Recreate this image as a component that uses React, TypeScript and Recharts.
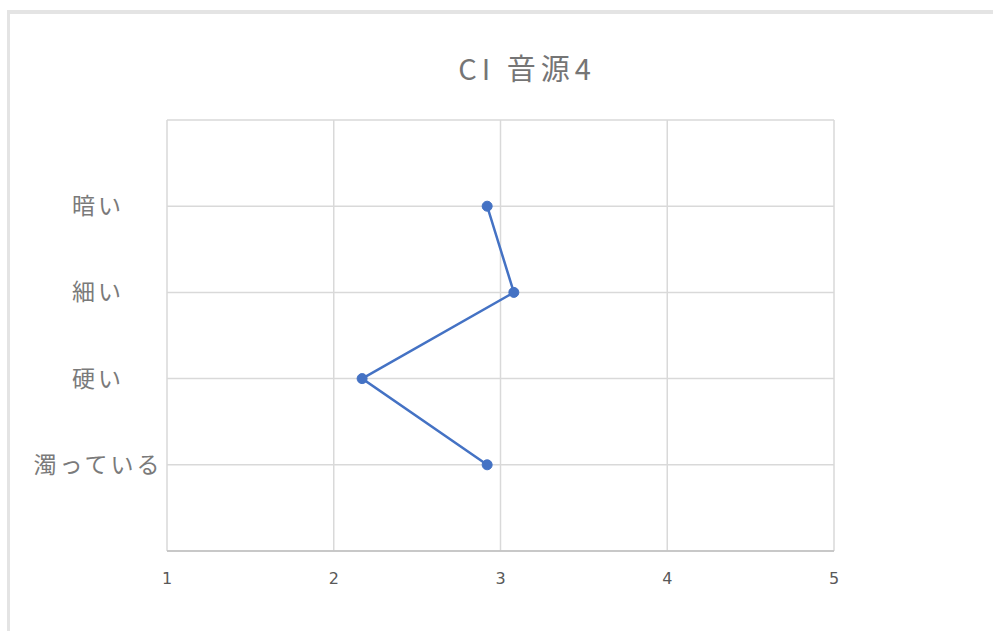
import { LineChart, Line, XAxis, YAxis, CartesianGrid } from "recharts";

// 評価尺度（上から順に）
const leftLabels = ["暗い", "細い", "硬い", "濁っている"];
const rightLabels = ["明るい", "太い", "柔らかい", "澄んでいる"];
const rowPositions = [4, 3, 2, 1];
const scores = [2.92, 3.08, 2.17, 2.92];
const scaleTicks = [1, 2, 3, 4, 5];
const rowTicks = [0, 1, 2, 3, 4, 5];

const data = rowPositions.map((row, i) => ({
  row,
  score: scores[i],
  left: leftLabels[i],
  right: rightLabels[i],
}));

const labelFor = (labels: string[]) => (v: number) => {
  const i = rowPositions.indexOf(v);
  return i >= 0 ? labels[i] : "";
};

const SideTick = ({ x, y, payload, labels, offset }: any) => {
  const text = labelFor(labels)(payload.value);
  if (!text) return null;
  return (
    <text
      x={x + offset}
      y={y - 2}
      textAnchor="middle"
      dominantBaseline="central"
      fill="#7a7a7a"
      fontSize={23}
      letterSpacing={3}
      fontFamily="'Noto Sans CJK JP', sans-serif"
    >
      {text}
    </text>
  );
};

export default function App() {
  return (
    <div
      style={{
        position: "absolute",
        left: 0,
        top: 0,
        width: 993,
        height: 631,
        overflow: "hidden",
        background: "#fff",
      }}
    >
      <div
        style={{
          position: "absolute",
          left: 7,
          top: 10,
          width: 1100,
          height: 700,
          borderTop: "4px solid #e4e4e4",
          borderLeft: "3px solid #e4e4e4",
        }}
      />
      <div
        style={{
          position: "absolute",
          left: 527 - 150,
          top: 46,
          width: 300,
          textAlign: "center",
          fontFamily: "'Noto Sans CJK JP', sans-serif",
          fontSize: 29,
          letterSpacing: 5,
          color: "#757575",
        }}
      >
        CI 音源4
      </div>
      <LineChart
        width={993}
        height={631}
        data={data}
        margin={{ top: 120, right: 0, bottom: 50, left: 0 }}
        style={{ position: "absolute", left: 0, top: 0 }}
      >
        <CartesianGrid stroke="#d9d9d9" strokeWidth={1.5} yAxisId="left" />
        <XAxis
          type="number"
          dataKey="score"
          domain={[1, 5]}
          ticks={scaleTicks}
          height={30}
          axisLine={{ stroke: "#bfbfbf", strokeWidth: 1.5 }}
          tickLine={false}
          tickMargin={16}
          tick={{ fill: "#595959", fontSize: 16, fontFamily: "'DejaVu Sans', sans-serif" }}
        />
        <YAxis
          yAxisId="left"
          type="number"
          domain={[0, 5]}
          ticks={rowTicks}
          width={167}
          axisLine={false}
          tickLine={false}
          tick={(p: any) => <SideTick {...p} labels={leftLabels} offset={-61} />}
        />
        <YAxis
          yAxisId="right"
          orientation="right"
          type="number"
          domain={[0, 5]}
          ticks={rowTicks}
          width={159}
          axisLine={false}
          tickLine={false}
          tick={(p: any) => <SideTick {...p} labels={rightLabels} offset={78} />}
        />
        <Line
          yAxisId="left"
          dataKey="row"
          stroke="#4472C4"
          strokeWidth={2.5}
          dot={{ r: 5, fill: "#4472C4", stroke: "#4472C4", strokeWidth: 1 }}
          isAnimationActive={false}
        />
      </LineChart>
    </div>
  );
}
